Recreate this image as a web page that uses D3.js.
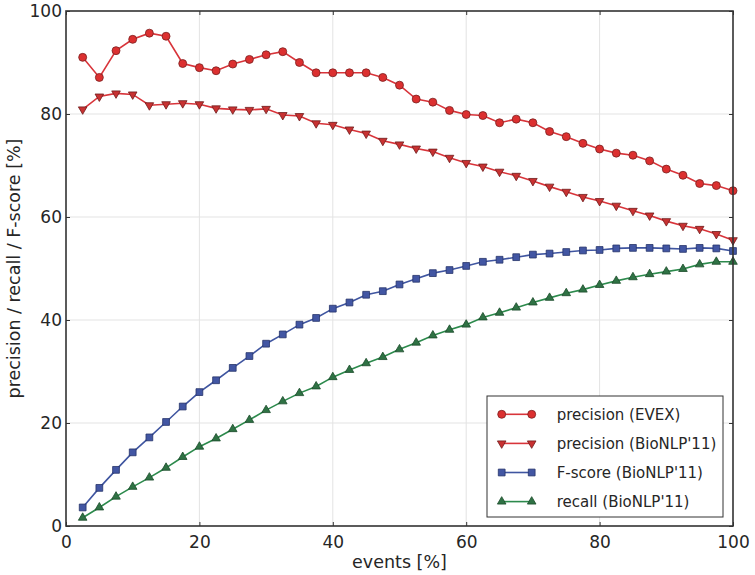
<!DOCTYPE html>
<html><head><meta charset="utf-8">
<script src="https://cdn.jsdelivr.net/npm/d3@7"></script>
<style>body{margin:0;background:#fff;} text{font-family:"DejaVu Sans",sans-serif;fill:#262626;}</style>
</head><body><svg id="c" width="755" height="575"></svg>
<script>
const eventsPct = d3.range(1,41).map(i=>i*2.5);
const precisionEVEX = [91.0,87.1,92.3,94.5,95.7,95.1,89.8,89.0,88.4,89.7,90.6,91.5,92.1,90.0,88.0,88.0,88.0,88.0,87.1,85.6,
  82.9,82.3,80.7,79.9,79.7,78.3,79.0,78.3,76.6,75.6,74.3,73.2,72.4,72.0,70.9,69.3,68.1,66.5,66.1,65.1];
const precisionBioNLP = [80.9,83.4,84.0,83.8,81.7,81.9,82.1,81.9,81.1,80.9,80.8,81.0,79.8,79.6,78.2,77.9,77.0,76.2,74.8,74.1,
  73.3,72.7,71.5,70.5,69.8,68.8,68.0,67.0,65.9,64.9,63.9,63.1,62.2,61.2,60.3,59.2,58.3,57.7,56.7,55.5];
const fscoreBioNLP = [3.6,7.4,10.9,14.3,17.2,20.2,23.2,26.0,28.3,30.7,33.0,35.4,37.2,39.1,40.4,42.2,43.4,44.9,45.6,46.9,
  48.0,49.1,49.7,50.5,51.3,51.7,52.2,52.7,52.9,53.2,53.5,53.6,53.9,54.0,54.0,53.9,53.8,54.0,53.9,53.4];
const recallBioNLP = [1.6,3.6,5.7,7.6,9.4,11.3,13.4,15.4,17.0,18.8,20.6,22.5,24.2,25.8,27.1,28.9,30.3,31.6,32.8,34.3,
  35.6,37.0,38.1,39.1,40.5,41.4,42.4,43.4,44.3,45.2,45.9,46.8,47.6,48.3,48.9,49.4,49.9,50.8,51.3,51.3];
const seriesNames = ["precision (EVEX)","precision (BioNLP'11)","F-score (BioNLP'11)","recall (BioNLP'11)"];
const xTicks = [0,20,40,60,80,100];
const yTicks = [0,20,40,60,80,100];

const series = [
  {name:seriesNames[0], values:precisionEVEX, line:"#d8343a", fill:"#dc3030", edge:"#7a1f1f", sym:d3.symbolCircle, size:50, rot:0},
  {name:seriesNames[1], values:precisionBioNLP, line:"#d8343a", fill:"#c83232", edge:"#6e1a1a", sym:d3.symbolTriangle, size:32, rot:180},
  {name:seriesNames[2], values:fscoreBioNLP, line:"#3f55a0", fill:"#4256a3", edge:"#26336a", sym:d3.symbolSquare, size:46, rot:0},
  {name:seriesNames[3], values:recallBioNLP, line:"#2c8a4c", fill:"#2f7244", edge:"#1b4a2a", sym:d3.symbolTriangle, size:32, rot:0}
];

const svg = d3.select("#c");
const L=66,R=733,T=11,B=526;
const x = d3.scaleLinear().domain([0,100]).range([L,R]);
const y = d3.scaleLinear().domain([0,100]).range([B,T]);

// grid
const g = svg.append("g");
g.selectAll(".gx").data(xTicks.slice(1,-1)).join("line").attr("x1",d=>x(d)).attr("x2",d=>x(d)).attr("y1",T).attr("y2",B).attr("stroke","#e3e3e3").attr("stroke-width",1);
g.selectAll(".gy").data(yTicks.slice(1,-1)).join("line").attr("y1",d=>y(d)).attr("y2",d=>y(d)).attr("x1",L).attr("x2",R).attr("stroke","#e3e3e3").attr("stroke-width",1);

// axes with inward ticks
const axB = svg.append("g").attr("transform",`translate(0,${B})`).call(d3.axisBottom(x).tickValues(xTicks).tickSize(-4).tickPadding(10));
const axT = svg.append("g").attr("transform",`translate(0,${T})`).call(d3.axisTop(x).tickValues(xTicks).tickSize(-4).tickFormat(""));
const axL = svg.append("g").attr("transform",`translate(${L},0)`).call(d3.axisLeft(y).tickValues(yTicks).tickSize(-4).tickPadding(4));
const axR = svg.append("g").attr("transform",`translate(${R},0)`).call(d3.axisRight(y).tickValues(yTicks).tickSize(-4).tickFormat(""));
[axB,axT,axL,axR].forEach(a=>{a.select(".domain").remove(); a.selectAll("line").attr("stroke","#333").attr("stroke-width",1);
  a.selectAll("text").style("font-family","DejaVu Sans").attr("font-size",17).attr("fill","#262626");});

const line = d3.line().x((d,i)=>x(eventsPct[i])).y(d=>y(d));
series.forEach(s=>{
  svg.append("path").datum(s.values).attr("d",line).attr("fill","none").attr("stroke",s.line).attr("stroke-width",1.6);
  svg.append("g").selectAll("path").data(s.values).join("path")
    .attr("d",d3.symbol().type(s.sym).size(s.size))
    .attr("transform",(d,i)=>`translate(${x(eventsPct[i])},${y(d)}) rotate(${s.rot})`)
    .attr("fill",s.fill).attr("stroke",s.edge).attr("stroke-width",0.8);
});

// frame
svg.append("rect").attr("x",L).attr("y",T).attr("width",R-L).attr("height",B-T).attr("fill","none").attr("stroke","#333").attr("stroke-width",1.6);

// labels
svg.append("text").attr("x",(L+R)/2).attr("y",568).attr("text-anchor","middle").attr("font-size",17.5).text("events [%]");
svg.append("text").attr("transform",`translate(19.5,${(T+B)/2}) rotate(-90)`).attr("text-anchor","middle").attr("font-size",17.5).text("precision / recall / F-score [%]");

// legend
const lg = svg.append("g");
lg.append("rect").attr("x",487).attr("y",396).attr("width",236).attr("height",121).attr("fill","#fff").attr("stroke","#333").attr("stroke-width",1);
series.forEach((s,i)=>{
  const yy = 414.3 + i*29.1;
  lg.append("line").attr("x1",501.7).attr("x2",531.7).attr("y1",yy).attr("y2",yy).attr("stroke",s.line).attr("stroke-width",1.6);
  [501.7,531.7].forEach(xx=>lg.append("path").attr("d",d3.symbol().type(s.sym).size(s.size)).attr("transform",`translate(${xx},${yy}) rotate(${s.rot})`).attr("fill",s.fill).attr("stroke",s.edge).attr("stroke-width",0.8));
  lg.append("text").attr("x",556.7).attr("y",yy).attr("dy","0.35em").attr("font-size",15).text(s.name);
});
</script></body></html>
